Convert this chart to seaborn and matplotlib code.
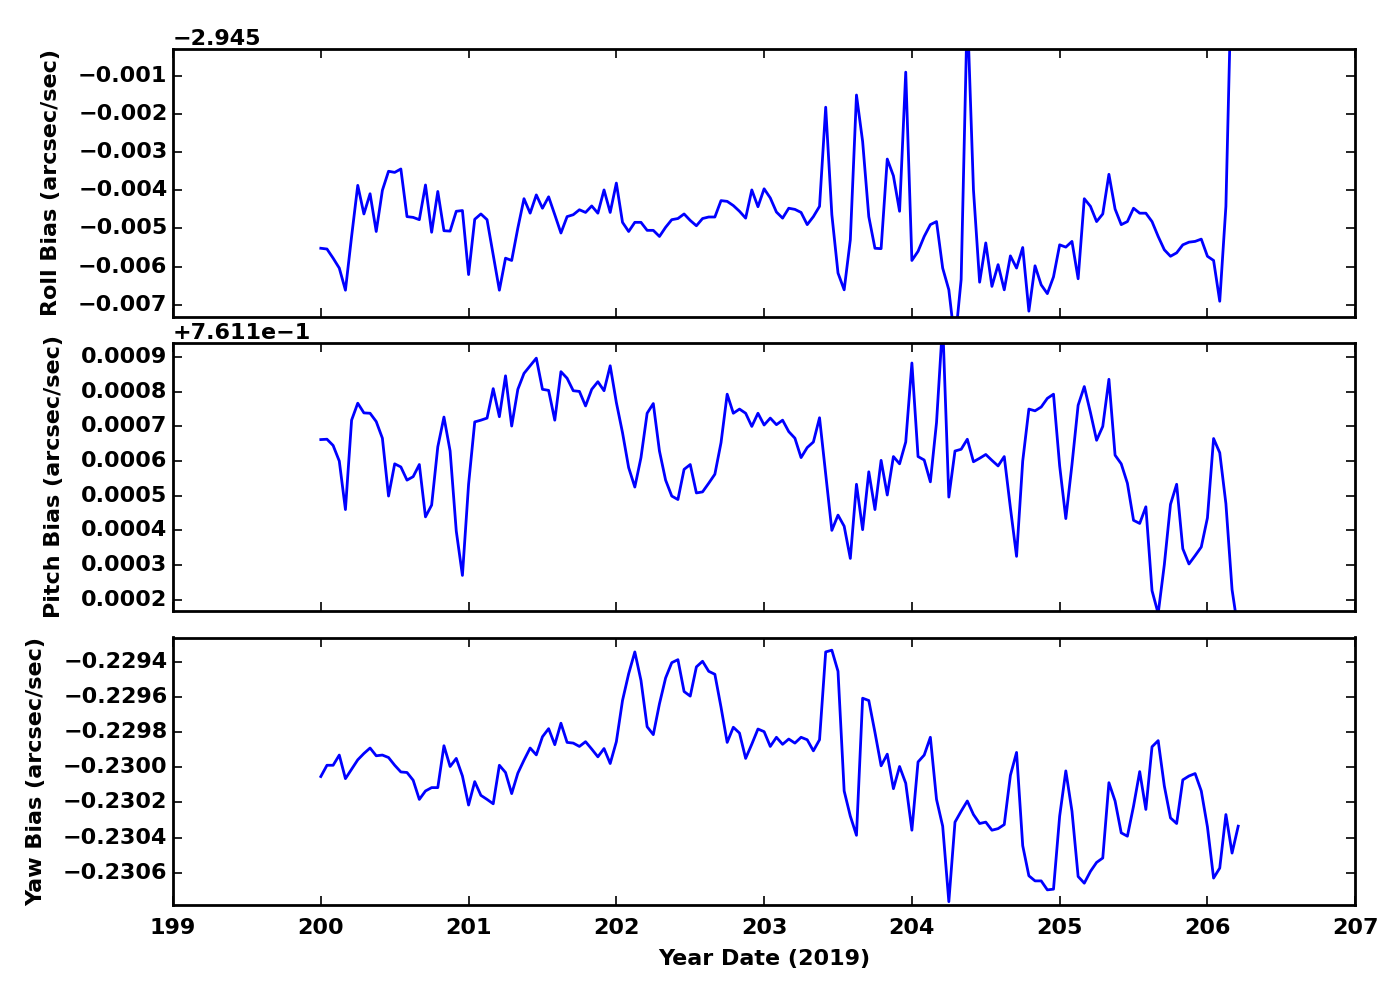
import numpy as np
import pandas as pd
import matplotlib
matplotlib.use('Agg')
import matplotlib.pyplot as plt
from matplotlib.ticker import MultipleLocator, ScalarFormatter
import seaborn as sns

# hourly samples starting at day 200.0 of 2019
hours = np.arange(150)
year_date = 200.0 + hours / 24.0

roll_bias = [
    -2.95052, -2.95054, -2.95078, -2.95104, -2.95162, -2.95021, -2.94887, -2.94962, -2.94909, -2.95008,
    -2.94900, -2.94850, -2.94853, -2.94844, -2.94969, -2.94971, -2.94977, -2.94886, -2.95010, -2.94903,
    -2.95006, -2.95007, -2.94955, -2.94953, -2.95121, -2.94976, -2.94962, -2.94977, -2.95069, -2.95162,
    -2.95078, -2.95084, -2.94999, -2.94922, -2.94960, -2.94912, -2.94947, -2.94917, -2.94964, -2.95012,
    -2.94969, -2.94964, -2.94951, -2.94958, -2.94941, -2.94960, -2.94899, -2.94958, -2.94881, -2.94984,
    -2.95008, -2.94984, -2.94984, -2.95005, -2.95005, -2.95021, -2.94997, -2.94977, -2.94974, -2.94962,
    -2.94979, -2.94993, -2.94974, -2.94970, -2.94970, -2.94927, -2.94929, -2.94940, -2.94955, -2.94973,
    -2.94899, -2.94943, -2.94896, -2.94920, -2.94957, -2.94973, -2.94947, -2.94950, -2.94958, -2.94990,
    -2.94969, -2.94942, -2.94682, -2.94964, -2.95117, -2.95161, -2.95030, -2.94650, -2.94772, -2.94969,
    -2.95052, -2.95053, -2.94818, -2.94862, -2.94955, -2.94590, -2.95084, -2.95060, -2.95021, -2.94990,
    -2.94982, -2.95104, -2.95161, -2.95300, -2.95134, -2.94420, -2.94899, -2.95141, -2.95038, -2.95152,
    -2.95095, -2.95161, -2.95072, -2.95104, -2.95050, -2.95217, -2.95098, -2.95148, -2.95171, -2.95127,
    -2.95043, -2.95049, -2.95034, -2.95132, -2.94922, -2.94942, -2.94982, -2.94962, -2.94858, -2.94949,
    -2.94990, -2.94982, -2.94947, -2.94960, -2.94960, -2.94982, -2.95021, -2.95056, -2.95073, -2.95064,
    -2.95043, -2.95036, -2.95034, -2.95028, -2.95073, -2.95084, -2.95191, -2.94942, -2.94270, -2.94300,
]

pitch_bias = [
    0.761762, 0.761763, 0.761745, 0.761700, 0.761560, 0.761818, 0.761867, 0.761839, 0.761838, 0.761814,
    0.761766, 0.761599, 0.761692, 0.761683, 0.761645, 0.761655, 0.761690, 0.761539, 0.761573, 0.761741,
    0.761827, 0.761729, 0.761498, 0.761370, 0.761633, 0.761813, 0.761818, 0.761824, 0.761909, 0.761828,
    0.761946, 0.761801, 0.761907, 0.761953, 0.761975, 0.761997, 0.761907, 0.761904, 0.761818, 0.761958,
    0.761939, 0.761903, 0.761901, 0.761859, 0.761907, 0.761929, 0.761903, 0.761975, 0.761869, 0.761782,
    0.761681, 0.761625, 0.761710, 0.761838, 0.761866, 0.761729, 0.761645, 0.761599, 0.761589, 0.761676,
    0.761690, 0.761608, 0.761611, 0.761636, 0.761662, 0.761753, 0.761893, 0.761838, 0.761850, 0.761838,
    0.761800, 0.761838, 0.761804, 0.761824, 0.761805, 0.761818, 0.761785, 0.761766, 0.761710, 0.761739,
    0.761755, 0.761825, 0.761662, 0.761500, 0.761544, 0.761512, 0.761419, 0.761633, 0.761502, 0.761669,
    0.761560, 0.761702, 0.761602, 0.761713, 0.761692, 0.761755, 0.761983, 0.761713, 0.761703, 0.761640,
    0.761811, 0.762100, 0.761596, 0.761729, 0.761734, 0.761763, 0.761698, 0.761708, 0.761719, 0.761702,
    0.761686, 0.761713, 0.761565, 0.761425, 0.761700, 0.761850, 0.761845, 0.761856, 0.761881, 0.761893,
    0.761686, 0.761534, 0.761690, 0.761861, 0.761915, 0.761840, 0.761760, 0.761800, 0.761936, 0.761717,
    0.761692, 0.761636, 0.761529, 0.761520, 0.761568, 0.761326, 0.761260, 0.761401, 0.761575, 0.761633,
    0.761447, 0.761403, 0.761427, 0.761452, 0.761536, 0.761765, 0.761724, 0.761577, 0.761329, 0.761210,
]

yaw_bias = [
    -0.230053, -0.229989, -0.229989, -0.229931, -0.230065, -0.230011, -0.229958, -0.229922, -0.229891, -0.229935,
    -0.229931, -0.229945, -0.229989, -0.230027, -0.230030, -0.230074, -0.230183, -0.230135, -0.230116, -0.230116,
    -0.229878, -0.229996, -0.229950, -0.230050, -0.230215, -0.230082, -0.230160, -0.230183, -0.230208, -0.229989,
    -0.230030, -0.230150, -0.230034, -0.229960, -0.229891, -0.229930, -0.229827, -0.229781, -0.229872, -0.229750,
    -0.229859, -0.229863, -0.229882, -0.229855, -0.229897, -0.229941, -0.229894, -0.229979, -0.229855, -0.229621,
    -0.229469, -0.229345, -0.229507, -0.229770, -0.229815, -0.229640, -0.229493, -0.229406, -0.229389, -0.229570,
    -0.229596, -0.229430, -0.229398, -0.229455, -0.229472, -0.229659, -0.229859, -0.229773, -0.229806, -0.229950,
    -0.229869, -0.229783, -0.229798, -0.229882, -0.229830, -0.229870, -0.229840, -0.229863, -0.229830, -0.229844,
    -0.229907, -0.229844, -0.229345, -0.229335, -0.229455, -0.230135, -0.230278, -0.230387, -0.229608, -0.229621,
    -0.229802, -0.229992, -0.229926, -0.230122, -0.229996, -0.230091, -0.230358, -0.229970, -0.229931, -0.229830,
    -0.230183, -0.230335, -0.230764, -0.230312, -0.230250, -0.230192, -0.230269, -0.230320, -0.230312, -0.230358,
    -0.230349, -0.230326, -0.230046, -0.229916, -0.230446, -0.230617, -0.230646, -0.230646, -0.230697, -0.230693,
    -0.230278, -0.230021, -0.230250, -0.230621, -0.230659, -0.230592, -0.230541, -0.230516, -0.230088, -0.230192,
    -0.230373, -0.230392, -0.230221, -0.230025, -0.230240, -0.229884, -0.229849, -0.230107, -0.230288, -0.230320,
    -0.230072, -0.230050, -0.230036, -0.230135, -0.230339, -0.230630, -0.230573, -0.230269, -0.230488, -0.230335,
]

panel_labels = ['Roll Bias (arcsec/sec)', 'Pitch Bias (arcsec/sec)', 'Yaw Bias (arcsec/sec)']
panel_limits = [(-2.95231, -2.945293), (0.761268, 0.762040), (-0.230783, -0.229263)]
panel_steps = [0.001, 0.0001, 0.0002]
panel_offsets = [-2.945, 0.7611, False]

plt.style.use('classic')
plt.rcParams.update({
    'font.family': ['DejaVu Sans'],
    'font.weight': 'bold',
    'font.size': 16,
    'axes.labelweight': 'bold',
    'axes.labelsize': 16,
    'xtick.labelsize': 16,
    'ytick.labelsize': 16,
    'axes.linewidth': 2.0,
    'xtick.major.size': 6.5,
    'ytick.major.size': 6.5,
    'xtick.major.width': 1.2,
    'ytick.major.width': 1.2,
    'xtick.major.pad': 9,
    'figure.facecolor': 'white',
    'savefig.facecolor': 'white',
})

df = pd.DataFrame({'time': year_date, 'roll': roll_bias, 'pitch': pitch_bias, 'yaw': yaw_bias})

fig, axes = plt.subplots(3, 1, figsize=(14, 10), dpi=100, sharex=True)
fig.subplots_adjust(left=0.1236, right=0.968, top=0.951, bottom=0.095, hspace=0.1)

for ax, col, label, lim, step, off in zip(axes, ['roll', 'pitch', 'yaw'], panel_labels,
                                           panel_limits, panel_steps, panel_offsets):
    sns.lineplot(data=df, x='time', y=col, ax=ax, color='b', linewidth=2.0,
                 estimator=None, sort=False, legend=False)
    ax.set_ylim(*lim)
    ax.yaxis.set_major_locator(MultipleLocator(step))
    ax.yaxis.set_major_formatter(ScalarFormatter(useOffset=off))
    ax.set_ylabel(label, labelpad=12)
    ax.set_xlabel('')

axes[-1].set_xlim(199, 207)
axes[-1].xaxis.set_major_locator(MultipleLocator(1))
axes[-1].xaxis.set_major_formatter(ScalarFormatter(useOffset=False))
axes[-1].set_xlabel('Year Date (2019)', labelpad=8)

fig.savefig('out.png', dpi=100)
